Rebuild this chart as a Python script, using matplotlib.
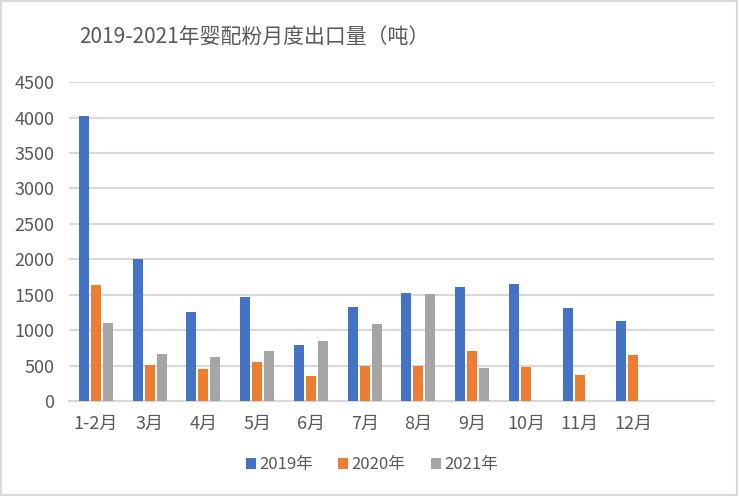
import matplotlib
matplotlib.use("Agg")
import matplotlib.pyplot as plt
import numpy as np
from matplotlib.patches import Rectangle

plt.rcParams['font.family'] = ['Noto Sans CJK SC', 'DejaVu Sans']

categories = ['1-2月', '3月', '4月', '5月', '6月', '7月', '8月', '9月', '10月', '11月', '12月']
v2019 = [4020, 2005, 1252, 1464, 787, 1323, 1520, 1605, 1647, 1308, 1125]
v2020 = [1634, 509, 447, 546, 349, 494, 494, 701, 475, 361, 645]
v2021 = [1097, 659, 617, 701, 842, 1083, 1506, 462, None, None, None]
series_names = ['2019年', '2020年', '2021年']
colors = ['#4472C4', '#ED7D31', '#A5A5A5']
yticks = [0, 500, 1000, 1500, 2000, 2500, 3000, 3500, 4000, 4500]

fig = plt.figure(figsize=(7.38, 4.96), dpi=100)
fig.patch.set_facecolor('white')
fig.patches.append(Rectangle((0, 0), 1, 1, transform=fig.transFigure,
                             fill=False, edgecolor='#D9D9D9', linewidth=3))
ax = fig.add_axes([0.0935, 0.1915, 0.874, 0.643])

x = np.arange(len(categories))
w = 0.185
offs = [-0.223, 0.0, 0.223]
for vals, off, c, name in zip([v2019, v2020, v2021], offs, colors, series_names):
    xs = [xi + off for xi, v in zip(x, vals) if v is not None]
    ys = [v for v in vals if v is not None]
    ax.bar(xs, ys, width=w, color=c, label=name, zorder=3)

ax.set_xlim(-0.5, 11.5)
ax.set_ylim(0, 4500)
ax.set_yticks(yticks)
ax.set_xticks(x)
ax.set_xticklabels(categories)
ax.grid(axis='y', color='#D9D9D9', linewidth=1.5, zorder=0)
ax.set_axisbelow(True)
for s in ['top', 'right', 'left']:
    ax.spines[s].set_visible(False)
ax.spines['bottom'].set_color('#D9D9D9')
ax.spines['bottom'].set_linewidth(1.5)
ax.tick_params(axis='both', length=0, labelsize=13, colors='#595959')
ax.tick_params(axis='y', pad=10.5)
ax.tick_params(axis='x', pad=10)

fig.text(254 / 738, 1 - 37 / 496, '2019-2021年婴配粉月度出口量（吨）', ha='center', va='center',
         fontsize=15, color='#595959')

leg = fig.legend(loc='center', bbox_to_anchor=(372 / 738, 1 - 465 / 496), ncol=3, frameon=False,
                 fontsize=12, handlelength=0.6, handleheight=0.6, handletextpad=0.2,
                 columnspacing=1.5)
for t in leg.get_texts():
    t.set_color('#595959')

fig.savefig('out.png', dpi=100, facecolor='white')
